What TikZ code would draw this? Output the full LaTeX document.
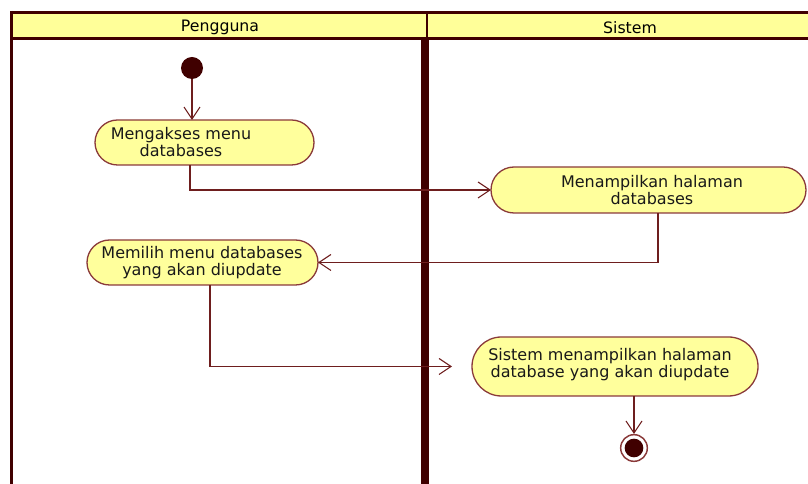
\documentclass[tikz,border=0pt]{standalone}
\usepackage{fontspec}
\setmainfont{DejaVu Sans}
\usetikzlibrary{arrows.meta}
\definecolor{laneyellow}{HTML}{FFFF99}
\definecolor{actfill}{HTML}{FFFF9C}
\definecolor{actline}{HTML}{8A3A3A}
\definecolor{flowline}{HTML}{6E1E1E}
\definecolor{darkmaroon}{HTML}{400000}
\tikzset{
  activity/.style={draw=actline, fill=actfill, line width=1.3pt*0.75,
    inner sep=0pt, outer sep=0pt},
  acttext/.style={align=center, font=\fontsize{12}{12.75}\selectfont, text=black!90},
  lanetitle/.style={font=\fontsize{11.8}{13}\selectfont, text=black},
  flow/.style={draw=flowline, line width=0.9pt,
    -{Straight Barb[length=9pt, width=12pt, line width=0.8pt]}},
}
\begin{document}
\begin{tikzpicture}[x=0.75pt, y=-0.75pt]
\useasboundingbox (0,0) rectangle (808,484);

% swimlane header band and frame
\fill[laneyellow] (10,13) rectangle (808,38);
\draw[darkmaroon, line width=2.4pt] (10,12.5) -- (808,12.5);
\draw[darkmaroon, line width=2.4pt] (10,38.5) -- (808,38.5);
\draw[darkmaroon, line width=2.4pt] (11.5,11) -- (11.5,484);
\draw[darkmaroon, line width=1.6pt] (427,13) -- (427,38);
\draw[darkmaroon, line width=5.5pt] (425,38) -- (425,484);

\node[lanetitle] (laneA) at (220,27.5) {Pengguna};
\node[lanetitle] (laneB) at (630,27.5) {Sistem};

% start and end
\node[circle, fill=darkmaroon, minimum size=16.5pt, inner sep=0pt] (start) at (192,68) {};
\node[circle, draw=actline, fill=white, line width=1.1pt, minimum size=20pt, inner sep=0pt] (end) at (634,448) {};
\node[circle, fill=darkmaroon, minimum size=14pt, inner sep=0pt] (endcore) at (634,448) {};

% activities
\node[activity, minimum width=219*0.75pt, minimum height=45*0.75pt, rounded corners=22.5*0.75pt] (a1) at (204.5,142.5) {};
\node[acttext] (t1) at (181,142.5) {Mengakses menu\\databases};

\node[activity, minimum width=315*0.75pt, minimum height=46*0.75pt, rounded corners=23*0.75pt] (a2) at (648.5,190) {};
\node[acttext] (t2) at (652,190) {Menampilkan halaman\\databases};

\node[activity, minimum width=231*0.75pt, minimum height=45*0.75pt, rounded corners=22.5*0.75pt] (a3) at (202.5,262.5) {};
\node[acttext] (t3) at (202,263) {Memilih menu databases\\yang akan diupdate};

\node[activity, minimum width=286*0.75pt, minimum height=59*0.75pt, rounded corners=29.5*0.75pt] (a4) at (615,366.5) {};
\node[acttext] (t4) at (610,365) {Sistem menampilkan halaman\\database yang akan diupdate};

% flows
\coordinate (k1) at (190,193);
\coordinate (k2) at (658,260);
\coordinate (k3) at (210,366);

\draw[flow] (start) -- (start |- a1.north);
\draw[flow] (a1.south -| k1) |- (a2.west);
\draw[flow] (a2.south -| k2) |- (a3.east);
\draw[flow, shorten >=20*0.75pt] (a3.south -| k3) |- (a4.west);
\draw[flow] (a4.south -| end) -- (end.north);
\end{tikzpicture}
\end{document}
